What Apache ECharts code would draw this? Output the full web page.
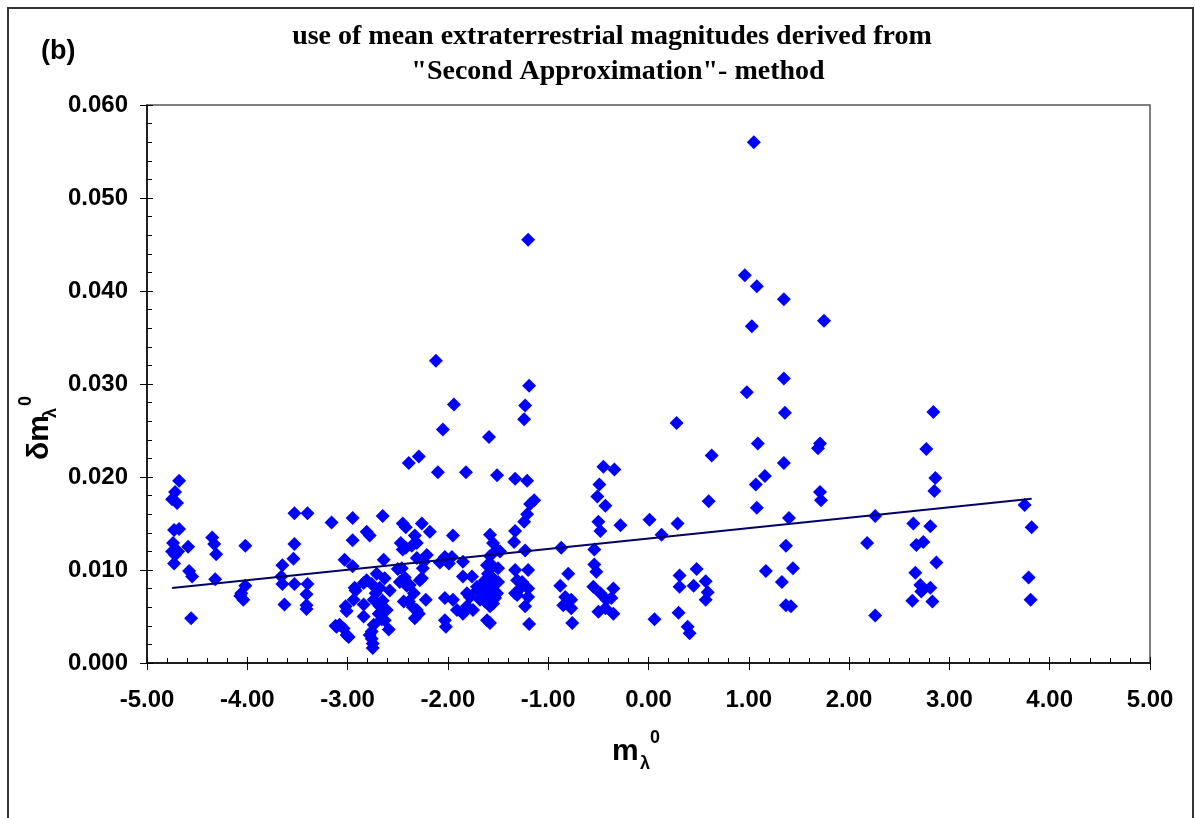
<!DOCTYPE html>
<html>
<head>
<meta charset="utf-8">
<script src="https://cdn.jsdelivr.net/npm/echarts@6/dist/echarts.min.js"></script>
<style>
html,body{margin:0;padding:0;background:#fff;}
#chart{width:1195px;height:818px;}
</style>
</head>
<body>
<div id="chart"></div>
<script>
// ---- data: [m_lambda_0, delta m_lambda_0] ----
const groupA = [[-4.68,0.0196],[-4.72,0.0184],[-4.75,0.0176],[-4.70,0.0172],[-4.73,0.0143],[-4.68,0.0144],[-4.74,0.0129],[-4.75,0.0120],[-4.69,0.0120],[-4.73,0.0107],[-4.72,0.0116],[-4.59,0.0125],[-4.58,0.0099],[-4.55,0.0093],[-4.56,0.0048]];
const groupB = [[-4.35,0.0135],[-4.33,0.0128],[-4.31,0.0117],[-4.32,0.0090],[-4.02,0.0126],[-4.02,0.0083],[-4.06,0.0075],[-4.04,0.0068],[-4.07,0.0072]];
const groupC = [[-3.65,0.0105],[-3.53,0.0128],[-3.54,0.0112],[-3.53,0.0161],[-3.40,0.0161],[-3.66,0.0093],[-3.65,0.0085],[-3.53,0.0085],[-3.40,0.0085],[-3.41,0.0074],[-3.41,0.0062],[-3.41,0.0058],[-3.63,0.0063]];
const groupD = [[-3.16,0.0151],[-3.12,0.0040],[-2.95,0.0156],[-2.95,0.0132],[-3.03,0.0111],[-2.95,0.0104],[-2.93,0.0081],[-2.94,0.0068],[-3.02,0.0061],[-3.01,0.0056],[-3.11,0.0039],[-3.04,0.0037],[-2.99,0.0028],[-3.01,0.0030],[-3.08,0.0041],[-2.92,0.0078]];
const groupE = [[-2.81,0.0141],[-2.78,0.0137],[-2.65,0.0158],[-2.64,0.0111],[-2.71,0.0096],[-2.63,0.0091],[-2.81,0.0089],[-2.84,0.0086],[-2.68,0.0081],[-2.58,0.0078],[-2.84,0.0063],[-2.74,0.0068],[-2.68,0.0061],[-2.61,0.0057],[-2.84,0.0050],[-2.66,0.0047],[-2.74,0.0041],[-2.59,0.0036],[-2.78,0.0030],[-2.75,0.0021],[-2.75,0.0016],[-2.76,0.0085],[-2.72,0.0075],[-2.65,0.0067],[-2.69,0.0053],[-2.63,0.0046],[-2.76,0.0026],[-2.76,0.0034]];
const groupF = [[-2.45,0.0150],[-2.42,0.0146],[-2.26,0.0150],[-2.18,0.0141],[-2.33,0.0137],[-2.31,0.0129],[-2.47,0.0129],[-2.45,0.0122],[-2.46,0.0102],[-2.31,0.0113],[-2.21,0.0116],[-2.24,0.0109],[-2.48,0.0087],[-2.41,0.0083],[-2.28,0.0089],[-2.34,0.0075],[-2.22,0.0068],[-2.39,0.0066],[-2.31,0.0057],[-2.33,0.0048],[-2.29,0.0053],[-2.39,0.0215],[-2.29,0.0222],[-2.42,0.0124],[-2.36,0.0126],[-2.43,0.0092],[-2.38,0.0084],[-2.50,0.0101],[-2.26,0.0091],[-2.44,0.0066],[-2.35,0.0060],[-2.25,0.0102]];
const groupG = [[-2.12,0.0325],[-1.94,0.0278],[-2.05,0.0251],[-2.10,0.0205],[-1.82,0.0205],[-1.95,0.0137],[-2.03,0.0114],[-1.96,0.0114],[-1.85,0.0109],[-2.03,0.0046],[-2.02,0.0039],[-2.03,0.0070],[-1.95,0.0068],[-1.91,0.0057],[-1.85,0.0053],[-1.81,0.0061],[-1.76,0.0093],[-1.85,0.0093],[-1.81,0.0075],[-1.78,0.0071],[-1.75,0.0057],[-2.08,0.0108],[-1.99,0.0107]];
const groupH = [[-1.59,0.0243],[-1.51,0.0202],[-1.58,0.0138],[-1.55,0.0129],[-1.51,0.0122],[-1.61,0.0105],[-1.55,0.0104],[-1.50,0.0102],[-1.71,0.0078],[-1.68,0.0068],[-1.61,0.0075],[-1.58,0.0061],[-1.61,0.0046],[-1.58,0.0043],[-1.55,0.0064],[-1.51,0.0075],[-1.50,0.0087],[-1.55,0.0091],[-1.63,0.0089],[-1.71,0.0082],[-1.66,0.0084],[-1.63,0.0066],[-1.56,0.0083],[-1.53,0.0070],[-1.48,0.0120],[-1.58,0.0115],[-1.60,0.0096]];
const groupI = [[-1.33,0.0198],[-1.33,0.0142],[-1.34,0.0130],[-1.33,0.0075],[-1.31,0.0089],[-1.33,0.0100],[-1.20,0.0455],[-1.19,0.0298],[-1.23,0.0277],[-1.24,0.0262],[-1.21,0.0196],[-1.14,0.0175],[-1.18,0.0171],[-1.21,0.0160],[-1.24,0.0152],[-1.23,0.0121],[-1.20,0.0100],[-1.26,0.0087],[-1.28,0.0080],[-1.31,0.0073],[-1.20,0.0080],[-1.20,0.0071],[-1.23,0.0061],[-1.19,0.0042]];
const groupJ = [[-0.87,0.0124],[-0.80,0.0096],[-0.88,0.0083],[-0.83,0.0071],[-0.85,0.0062],[-0.77,0.0068],[-0.77,0.0059],[-0.76,0.0043]];
const groupK = [[-0.54,0.0122],[-0.45,0.0211],[-0.34,0.0208],[-0.49,0.0192],[-0.51,0.0179],[-0.43,0.0169],[-0.50,0.0152],[-0.48,0.0142],[-0.28,0.0148],[-0.54,0.0106],[-0.52,0.0098],[-0.55,0.0082],[-0.48,0.0075],[-0.35,0.0080],[-0.42,0.0068],[-0.37,0.0070],[-0.50,0.0055],[-0.43,0.0059],[-0.35,0.0053]];
const groupL = [[0.01,0.0154],[0.06,0.0047],[0.28,0.0258],[0.63,0.0223],[0.60,0.0174],[0.29,0.0150],[0.13,0.0138],[0.31,0.0094],[0.48,0.0101],[0.31,0.0082],[0.45,0.0083],[0.57,0.0088],[0.59,0.0076],[0.57,0.0068],[0.30,0.0054],[0.39,0.0039],[0.41,0.0032]];
const groupM = [[1.05,0.0560],[0.96,0.0417],[1.08,0.0405],[1.35,0.0391],[1.75,0.0368],[1.03,0.0362],[1.35,0.0306],[0.98,0.0291],[1.36,0.0269],[1.09,0.0236],[1.35,0.0215],[1.07,0.0192],[1.16,0.0201],[1.08,0.0167],[1.40,0.0156],[1.37,0.0126],[1.17,0.0099],[1.44,0.0102],[1.33,0.0087],[1.37,0.0062],[1.42,0.0061],[1.71,0.0236],[1.69,0.0231],[1.71,0.0184],[1.72,0.0175]];
const groupN = [[2.26,0.0158],[2.18,0.0129],[2.26,0.0051],[2.64,0.0150],[2.81,0.0147],[2.67,0.0127],[2.74,0.0130],[2.66,0.0097],[2.71,0.0084],[2.72,0.0077],[2.81,0.0081],[2.63,0.0067],[2.83,0.0066],[2.84,0.0270],[2.77,0.0230],[2.86,0.0199],[2.85,0.0185],[2.87,0.0108]];
const groupO = [[3.75,0.0170],[3.82,0.0146],[3.79,0.0092],[3.81,0.0068]];

// linear trend line
const trendSlope = 0.00112;
const trendIntercept = 0.01338;

const titleLines = ['use of mean extraterrestrial magnitudes derived from', '"Second Approximation"- method'];
const panelLabel = '(b)';

const points = [].concat(groupA, groupB, groupC, groupD, groupE, groupF, groupG, groupH, groupI, groupJ, groupK, groupL, groupM, groupN, groupO);
const xs = points.map(p => p[0]);
const xMinData = Math.min.apply(null, xs), xMaxData = Math.max.apply(null, xs);
const trendData = [[xMinData, trendIntercept + trendSlope * xMinData], [xMaxData, trendIntercept + trendSlope * xMaxData]];

const chart = echarts.init(document.getElementById('chart'), null, {renderer: 'canvas'});
const labelFont = {fontFamily: 'Liberation Sans, Arial, sans-serif', fontWeight: 'bold', fontSize: 24, color: '#000'};
const serif = 'Liberation Serif, Times New Roman, serif';
const sans = 'Liberation Sans, Arial, sans-serif';

const baseX = {type: 'value', min: -5, max: 5, interval: 1};
const baseY = {type: 'value', min: 0, max: 0.06, interval: 0.01};

chart.setOption({
  animation: false,
  backgroundColor: '#fff',
  grid: {left: 147, right: 45, top: 105, bottom: 155, show: true, borderColor: '#555', borderWidth: 1.5, backgroundColor: 'transparent'},
  xAxis: [
    Object.assign({}, baseX, {
      position: 'bottom',
      axisLine: {show: true, onZero: false, lineStyle: {color: '#000', width: 1.5}},
      axisTick: {show: true, inside: false, length: 7, lineStyle: {color: '#000', width: 1}},
      minorTick: {show: false},
      splitLine: {show: false},
      axisLabel: Object.assign({margin: 25, formatter: v => v.toFixed(2)}, labelFont)
    }),
    Object.assign({}, baseX, {
      position: 'bottom',
      axisLine: {show: false, onZero: false},
      axisTick: {show: true, inside: true, length: 6, lineStyle: {color: '#000', width: 1}},
      minorTick: {show: true, splitNumber: 5, length: 5, lineStyle: {color: '#000', width: 1}},
      splitLine: {show: false},
      axisLabel: {show: false}
    })
  ],
  yAxis: [
    Object.assign({}, baseY, {
      position: 'left',
      axisLine: {show: true, onZero: false, lineStyle: {color: '#000', width: 1.5}},
      axisTick: {show: true, inside: false, length: 7, lineStyle: {color: '#000', width: 1}},
      minorTick: {show: false},
      splitLine: {show: false},
      axisLabel: Object.assign({margin: 19, formatter: v => v.toFixed(3)}, labelFont)
    }),
    Object.assign({}, baseY, {
      position: 'left',
      axisLine: {show: false, onZero: false},
      axisTick: {show: true, inside: true, length: 6, lineStyle: {color: '#000', width: 1}},
      minorTick: {show: true, splitNumber: 5, length: 5, lineStyle: {color: '#000', width: 1}},
      splitLine: {show: false},
      axisLabel: {show: false}
    })
  ],
  series: [
    {
      type: 'scatter', xAxisIndex: 0, yAxisIndex: 0,
      symbol: 'diamond', symbolSize: 14,
      itemStyle: {color: '#0000ff', opacity: 1},
      data: points, z: 3
    },
    {
      type: 'line', xAxisIndex: 0, yAxisIndex: 0,
      data: trendData, showSymbol: false, symbol: 'none',
      lineStyle: {color: '#000066', width: 2}, z: 4
    }
  ],
  graphic: [
    {type: 'rect', shape: {x: 8, y: 8, width: 1185, height: 830}, style: {fill: 'none', stroke: '#333', lineWidth: 2}, silent: true, z: 0},
    {type: 'text', x: 612, y: 37, style: {text: titleLines[0], font: 'bold 28px ' + serif, fill: '#000', textAlign: 'center', textVerticalAlign: 'middle'}},
    {type: 'text', x: 618, y: 72, style: {text: titleLines[1], font: 'bold 28px ' + serif, fill: '#000', textAlign: 'center', textVerticalAlign: 'middle'}},
    {type: 'text', x: 41, y: 52, style: {text: panelLabel, font: 'bold 27px ' + sans, fill: '#000', textAlign: 'left', textVerticalAlign: 'middle'}},
    // x-axis name: m, subscript lambda, superscript 0
    {type: 'group', x: 612, y: 752, children: [
      {type: 'text', x: 0, y: 0, style: {text: 'm', font: 'bold 30px ' + sans, fill: '#000', textAlign: 'left', textVerticalAlign: 'middle'}},
      {type: 'text', x: 28, y: 12, style: {text: 'λ', font: 'bold 18px ' + sans, fill: '#000', textAlign: 'left', textVerticalAlign: 'middle'}},
      {type: 'text', x: 38, y: -14, style: {text: '0', font: 'bold 18px ' + sans, fill: '#000', textAlign: 'left', textVerticalAlign: 'middle'}}
    ]},
    // y-axis name, rotated
    {type: 'group', x: 40, y: 460, rotation: Math.PI / 2, children: [
      {type: 'text', x: 0, y: 0, style: {text: 'δm', font: 'bold 30px ' + sans, fill: '#000', textAlign: 'left', textVerticalAlign: 'middle'}},
      {type: 'text', x: 42, y: 11, style: {text: 'λ', font: 'bold 18px ' + sans, fill: '#000', textAlign: 'left', textVerticalAlign: 'middle'}},
      {type: 'text', x: 54, y: -14, style: {text: '0', font: 'bold 18px ' + sans, fill: '#000', textAlign: 'left', textVerticalAlign: 'middle'}}
    ]}
  ]
});
</script>
</body>
</html>
